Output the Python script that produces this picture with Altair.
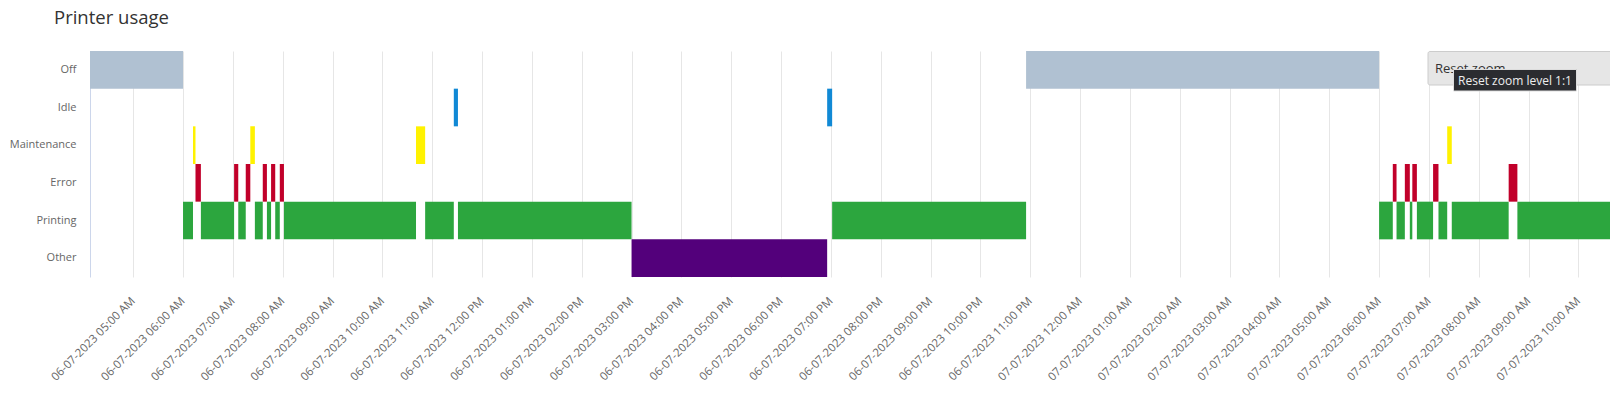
import altair as alt
import pandas as pd

# ---- data ----
chart_title = "Printer usage"
categories = ["Off", "Idle", "Maintenance", "Error", "Printing", "Other"]
state_colors = ["#b0c1d2", "#1189d5", "#fff200", "#c1002a", "#2ca63e", "#53007b"]

bar_state = (
    ["Off", "Off"]
    + ["Printing"] * 17
    + ["Error"] * 11
    + ["Maintenance"] * 4
    + ["Idle"] * 2
    + ["Other"]
)
bar_start = [
    # Off
    "2023-07-06T04:08:00", "2023-07-06T22:55:00",
    # Printing
    "2023-07-06T06:00:00", "2023-07-06T06:21:30", "2023-07-06T07:06:30",
    "2023-07-06T07:26:30", "2023-07-06T07:41:00", "2023-07-06T07:51:00",
    "2023-07-06T08:01:30", "2023-07-06T10:51:30", "2023-07-06T11:31:00",
    "2023-07-06T19:01:30", "2023-07-07T06:00:00", "2023-07-07T06:21:00",
    "2023-07-07T06:37:00", "2023-07-07T06:45:30", "2023-07-07T07:11:30",
    "2023-07-07T07:27:30", "2023-07-07T08:46:30",
    # Error
    "2023-07-06T06:15:00", "2023-07-06T07:01:30", "2023-07-06T07:15:30",
    "2023-07-06T07:36:00", "2023-07-06T07:46:00", "2023-07-06T07:56:30",
    "2023-07-07T06:16:30", "2023-07-07T06:31:00", "2023-07-07T06:40:00",
    "2023-07-07T07:05:00", "2023-07-07T08:36:00",
    # Maintenance
    "2023-07-06T06:12:00", "2023-07-06T07:21:00", "2023-07-06T10:40:30",
    "2023-07-07T07:22:00",
    # Idle
    "2023-07-06T11:26:00", "2023-07-06T18:55:30",
    # Other
    "2023-07-06T15:00:00",
]
bar_end = [
    # Off
    "2023-07-06T06:00:00", "2023-07-07T06:00:00",
    # Printing
    "2023-07-06T06:12:00", "2023-07-06T07:01:30", "2023-07-06T07:15:30",
    "2023-07-06T07:36:00", "2023-07-06T07:46:00", "2023-07-06T07:56:30",
    "2023-07-06T10:40:30", "2023-07-06T11:26:00", "2023-07-06T15:00:00",
    "2023-07-06T22:55:00", "2023-07-07T06:16:30", "2023-07-07T06:31:00",
    "2023-07-07T06:40:00", "2023-07-07T07:05:00", "2023-07-07T07:22:00",
    "2023-07-07T08:36:00", "2023-07-07T10:47:00",
    # Error
    "2023-07-06T06:21:30", "2023-07-06T07:06:30", "2023-07-06T07:21:00",
    "2023-07-06T07:41:00", "2023-07-06T07:51:00", "2023-07-06T08:01:30",
    "2023-07-07T06:21:00", "2023-07-07T06:37:00", "2023-07-07T06:45:30",
    "2023-07-07T07:11:30", "2023-07-07T08:46:30",
    # Maintenance
    "2023-07-06T06:15:00", "2023-07-06T07:26:30", "2023-07-06T10:51:30",
    "2023-07-07T07:27:30",
    # Idle
    "2023-07-06T11:31:00", "2023-07-06T19:01:30",
    # Other
    "2023-07-06T18:55:30",
]
x_domain = [
    alt.DateTime(year=2023, month=7, date=6, hours=4, minutes=8),
    alt.DateTime(year=2023, month=7, date=7, hours=10, minutes=38),
]
# hourly ticks: 06-07-2023 05:00 AM ... 07-07-2023 10:00 AM
tick_days = [6] * 19 + [7] * 11
tick_hours = list(range(5, 24)) + list(range(0, 11))
tick_values = [alt.DateTime(year=2023, month=7, date=d, hours=h)
               for d, h in zip(tick_days, tick_hours)]

df = pd.DataFrame({"state": bar_state, "start": bar_start, "end": bar_end})

FONT = "Open Sans"
W, H = 1520, 226

bars = alt.Chart(df).mark_bar(clip=True).encode(
    x=alt.X(
        "start:T",
        scale=alt.Scale(domain=x_domain),
        axis=alt.Axis(
            title=None,
            format="%d-%m-%Y %I:%M %p",
            values=tick_values,
            labelAngle=-45,
            labelAlign="right",
            labelBaseline="middle",
            labelPadding=22,
            labelOverlap=False,
            labelFlush=False,
            labelFont=FONT,
            labelFontSize=11.5,
            labelColor="#666666",
            ticks=False,
            domain=False,
            grid=True,
            gridColor="#e6e6e6",
            gridWidth=1,
        ),
    ),
    x2="end:T",
    y=alt.Y(
        "state:N",
        sort=categories,
        scale=alt.Scale(domain=categories, paddingInner=0, paddingOuter=0),
        axis=alt.Axis(
            title=None,
            labelFont=FONT,
            labelFontSize=11,
            labelColor="#666666",
            labelPadding=14,
            ticks=False,
            domain=True,
            domainColor="#ccd6eb",
            grid=False,
        ),
    ),
    color=alt.Color(
        "state:N",
        scale=alt.Scale(domain=categories, range=state_colors),
        legend=None,
    ),
)

one = alt.Data(values=[{"k": 1}])

title_text = alt.Chart(one).mark_text(
    text=chart_title, font=FONT, fontSize=18.5, color="#333333",
    align="left", baseline="alphabetic",
).encode(x=alt.value(-36), y=alt.value(-27.5))

button_rect = alt.Chart(one).mark_rect(
    fill="#e6e6e6", stroke="#cccccc", strokeWidth=1, cornerRadius=2
).encode(x=alt.value(1338), x2=alt.value(1530), y=alt.value(0.5), y2=alt.value(34))

button_text = alt.Chart(one).mark_text(
    text="Reset zoom", font=FONT, fontSize=13, color="#333333",
    align="left", baseline="alphabetic",
).encode(x=alt.value(1345), y=alt.value(21.5))

tip_rect = alt.Chart(one).mark_rect(
    fill="#2b2c30", stroke="#dddddd", strokeWidth=1
).encode(x=alt.value(1363.5), x2=alt.value(1486.5), y=alt.value(18.5), y2=alt.value(40))

tip_text = alt.Chart(one).mark_text(
    text="Reset zoom level 1:1", font=FONT, fontSize=12, color="#eeeeee",
    align="center", baseline="middle",
).encode(x=alt.value(1425), y=alt.value(29.5))

chart = alt.layer(
    bars, title_text, button_rect, button_text, tip_rect, tip_text
).properties(
    width=W,
    height=H,
    padding={"left": 82, "top": 43, "right": 0, "bottom": 106},
    autosize=alt.AutoSizeParams(type="none"),
).configure_view(strokeWidth=0)

chart.save("out.html", embed_options={"renderer": "svg", "actions": False})
